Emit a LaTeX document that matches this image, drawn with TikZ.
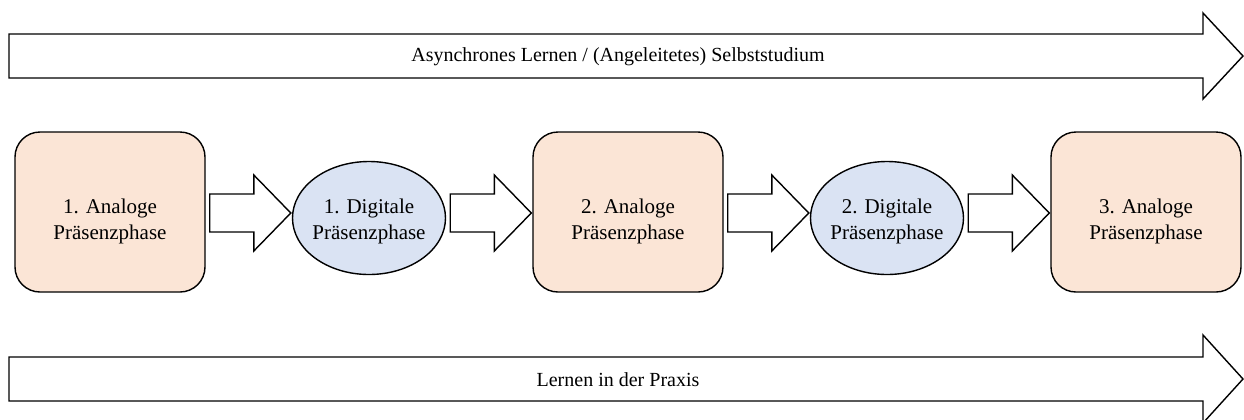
\documentclass[tikz,border=0pt]{standalone}
\usepackage{fontspec}
\setmainfont{Liberation Serif}
\usepackage{xcolor}
\usepackage{tikz}
\usetikzlibrary{calc, positioning, shapes.geometric}

\definecolor{analogfill}{HTML}{FBE5D6}
\definecolor{digitalfill}{HTML}{DAE3F3}

% block arrow between two phases, on the height of (row)
\newcommand{\phasearrow}[2]{%
  \draw[flow arrow] ($(#1.east |- row)+(4,-19)$) -- ($(#2.west |- row)+(-38,-19)$)
    -- ++(0,-19) -- ($(#2.west |- row)+(-1,0)$) -- ($(#2.west |- row)+(-38,38)$)
    -- ++(0,-19) -- ($(#1.east |- row)+(4,19)$) -- cycle;}
% strut that pushes the two lines a bit below the middle
\newcommand{\lowstrut}[1]{\rule{0pt}{#1}}

\begin{document}
\begin{tikzpicture}[x=0.5pt,y=-0.5pt,node distance=129.5pt,line width=0.7pt,
  every node/.style={font=\fontsize{10.5}{13}\selectfont},
  analog/.style={draw,fill=analogfill,rounded corners=12.5pt,align=center,
    minimum width=95pt,minimum height=80pt},
  digital/.style={ellipse,draw,fill=digitalfill,align=center,inner xsep=-2pt,
    inner ysep=0pt,minimum width=76.5pt,minimum height=56.5pt},
  flow arrow/.style={draw,fill=white,line join=miter},
  lane arrow/.style={draw,fill=white,line join=miter},
  lane label/.style={font=\fontsize{10}{12}\selectfont}]

  \useasboundingbox (0,0) rectangle (1244,419);

  % upper lane
  \draw[lane arrow] (9,34) -- (1203,34) -- (1203,13) -- (1243,56) -- (1203,99)
    -- (1203,78) -- (9,78) -- cycle;
  \node[lane label] (async) at (618,57) {Asynchrones Lernen / (Angeleitetes) Selbststudium};

  % phases
  \coordinate (row) at (0,213);
  \node[analog] (A1) at (110,212) {\lowstrut{16.5pt}1. Analoge\\Präsenzphase};
  \node[digital] (D1) [right of=A1,yshift=-3pt] {\lowstrut{10.5pt}1. Digitale\\Präsenzphase};
  \node[analog] (A2) [right of=D1,yshift=3pt] {\lowstrut{16.5pt}2. Analoge\\Präsenzphase};
  \node[digital] (D2) [right of=A2,yshift=-3pt] {\lowstrut{10.5pt}2. Digitale\\Präsenzphase};
  \node[analog] (A3) [right of=D2,yshift=3pt] {\lowstrut{16.5pt}3. Analoge\\Präsenzphase};

  \phasearrow{A1}{D1}
  \phasearrow{D1}{A2}
  \phasearrow{A2}{D2}
  \phasearrow{D2}{A3}

  % lower lane
  \draw[lane arrow] (9,357) -- (1203,357) -- (1203,335) -- (1243,379) -- (1203,423)
    -- (1203,401) -- (9,401) -- cycle;
  \node[lane label] (praxis) at (618,380) {Lernen in der Praxis};
\end{tikzpicture}
\end{document}
